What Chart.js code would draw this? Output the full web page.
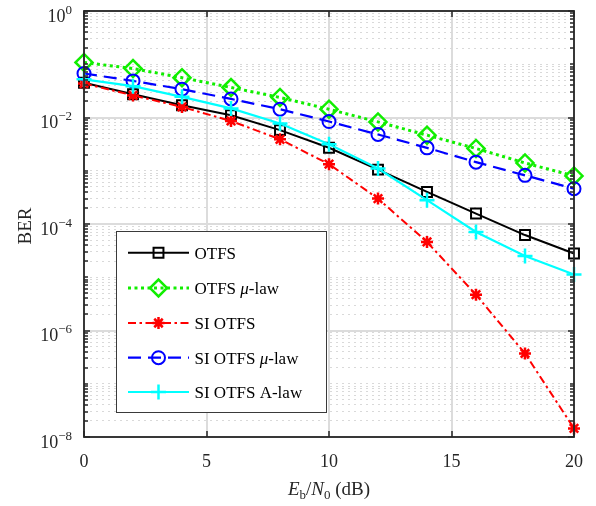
<!DOCTYPE html>
<html>
<head>
<meta charset="utf-8">
<script src="https://cdn.jsdelivr.net/npm/chart.js@4.4.1/dist/chart.umd.min.js"></script>
<style>
  html, body { margin: 0; padding: 0; background: #ffffff; }
  #wrap { width: 596px; height: 506px; }
</style>
</head>
<body>
<div id="wrap"><canvas id="c" width="596" height="506"></canvas></div>
<script>
// ---- data ----
const snr = [0, 2, 4, 6, 8, 10, 12, 14, 16, 18, 20];
const berOTFS     = [0.045, 0.0274, 0.017, 0.011, 0.0058, 0.0027, 0.00105, 0.0004, 0.000157, 0.000062, 0.000028];
const berOTFSMu   = [0.108, 0.083, 0.056, 0.0366, 0.0238, 0.0143, 0.00826, 0.00466, 0.00262, 0.0014, 0.0008];
const berSIOTFS   = [0.0435, 0.026, 0.0158, 0.0086, 0.0039, 0.00133, 0.0003, 0.000046, 0.0000047, 3.7e-7, 1.45e-8];
const berSIOTFSMu = [0.067, 0.0487, 0.034, 0.0223, 0.0143, 0.0084, 0.0048, 0.00269, 0.00145, 0.00082, 0.00046];
const berSIOTFSA  = [0.052, 0.0387, 0.0244, 0.0148, 0.0077, 0.00316, 0.0011, 0.00028, 0.000071, 0.000025, 0.0000113];
const seriesNames = ['OTFS', 'OTFS \u03bc-law', 'SI OTFS', 'SI OTFS \u03bc-law', 'SI OTFS A-law'];
const xTicks = [0, 5, 10, 15, 20];
const yMajorExp = [0, -2, -4, -6, -8];

const FONT = '"Liberation Serif", "Times New Roman", serif';
const AXC = '#262626';

function pts(ys) { return snr.map((x, i) => ({ x: x, y: ys[i] })); }

const styles = [
  { color: '#000000', dash: [], width: 2, point: 'rect', r: 7, pw: 2 },
  { color: '#11ee00', dash: [3, 3.5], width: 3, point: 'rectRot', r: 8.5, pw: 2.5 },
  { color: '#ff0000', dash: [8, 3.5, 2.5, 3.5], width: 2, point: 'star', r: 6, pw: 2.5 },
  { color: '#0000ff', dash: [13, 7], width: 2.2, point: 'circle', r: 6.5, pw: 2 },
  { color: '#00ffff', dash: [], width: 2.2, point: 'cross', r: 7.5, pw: 2.5 }
];
const allSeries = [berOTFS, berOTFSMu, berSIOTFS, berSIOTFSMu, berSIOTFSA];

const datasets = allSeries.map((s, i) => ({
  label: seriesNames[i],
  data: pts(s),
  borderColor: styles[i].color,
  backgroundColor: 'rgba(0,0,0,0)',
  borderWidth: styles[i].width,
  borderDash: styles[i].dash,
  pointStyle: styles[i].point,
  pointRadius: styles[i].r,
  pointBorderWidth: styles[i].pw,
  pointBorderColor: styles[i].color,
  pointBackgroundColor: 'rgba(0,0,0,0)',
  tension: 0,
  fill: false,
  clip: false,
  order: 5 - i
}));

const majorVals = yMajorExp.map(e => Math.pow(10, e));
const minorVals = [];
for (let k = -8; k < 0; k++) {
  for (let m = 1; m <= 9; m++) {
    if (m === 1 && k % 2 === 0) continue;
    minorVals.push(m * Math.pow(10, k));
  }
}

function drawMarker(ctx, st, x, y) {
  const r = st.r;
  ctx.beginPath();
  if (st.point === 'rect') { const s = r * Math.SQRT1_2; ctx.rect(x - s, y - s, 2 * s, 2 * s); }
  else if (st.point === 'rectRot') { ctx.moveTo(x - r, y); ctx.lineTo(x, y - r); ctx.lineTo(x + r, y); ctx.lineTo(x, y + r); ctx.closePath(); }
  else if (st.point === 'circle') { ctx.arc(x, y, r, 0, Math.PI * 2); }
  else if (st.point === 'cross') { ctx.moveTo(x, y - r); ctx.lineTo(x, y + r); ctx.moveTo(x - r, y); ctx.lineTo(x + r, y); }
  else if (st.point === 'star') {
    ctx.moveTo(x, y - r); ctx.lineTo(x, y + r); ctx.moveTo(x - r, y); ctx.lineTo(x + r, y);
    const d = r * Math.SQRT1_2;
    ctx.moveTo(x - d, y - d); ctx.lineTo(x + d, y + d); ctx.moveTo(x - d, y + d); ctx.lineTo(x + d, y - d);
  }
  ctx.stroke();
}

function drawRich(ctx, parts, x, y, align) {
  let total = 0;
  parts.forEach(p => { ctx.font = p.font; p.w = ctx.measureText(p.t).width; total += p.w; });
  let cx = align === 'center' ? x - total / 2 : (align === 'right' ? x - total : x);
  parts.forEach(p => { ctx.font = p.font; ctx.fillText(p.t, cx, y + (p.dy || 0)); cx += p.w; });
}

const decorPlugin = {
  id: 'decor',
  afterDraw(chart) {
    const ctx = chart.ctx;
    const a = chart.chartArea;
    const xs = chart.scales.x, ys = chart.scales.y;
    ctx.save();
    // axis box
    ctx.strokeStyle = AXC;
    ctx.lineWidth = 1.8;
    ctx.setLineDash([]);
    ctx.strokeRect(a.left, a.top, a.right - a.left, a.bottom - a.top);
    // ticks inward
    ctx.lineWidth = 1.5;
    ctx.beginPath();
    xTicks.forEach(v => {
      const px = Math.round(xs.getPixelForValue(v));
      ctx.moveTo(px, a.bottom); ctx.lineTo(px, a.bottom - 6);
      ctx.moveTo(px, a.top); ctx.lineTo(px, a.top + 6);
    });
    majorVals.forEach(v => {
      const py = Math.round(ys.getPixelForValue(v));
      ctx.moveTo(a.left, py); ctx.lineTo(a.left + 6, py);
      ctx.moveTo(a.right, py); ctx.lineTo(a.right - 6, py);
    });
    minorVals.forEach(v => {
      const py = Math.round(ys.getPixelForValue(v));
      ctx.moveTo(a.left, py); ctx.lineTo(a.left + 4, py);
      ctx.moveTo(a.right, py); ctx.lineTo(a.right - 4, py);
    });
    ctx.stroke();

    // x tick labels
    ctx.fillStyle = AXC;
    ctx.textBaseline = 'alphabetic';
    ctx.textAlign = 'center';
    ctx.font = '18px ' + FONT;
    xTicks.forEach(v => {
      ctx.fillText(String(v), xs.getPixelForValue(v), 467);
    });
    // y tick labels 10^e
    ctx.textAlign = 'left';
    yMajorExp.forEach(e => {
      const py = ys.getPixelForValue(Math.pow(10, e));
      const sup = e === 0 ? '0' : '\u2212' + String(-e);
      drawRich(ctx, [
        { t: '10', font: '18px ' + FONT, dy: 10.5 },
        { t: sup, font: '13px ' + FONT, dy: 2.5 }
      ], 72, py, 'right');
    });
    // x axis title
    ctx.fillStyle = AXC;
    drawRich(ctx, [
      { t: 'E', font: 'italic 19px ' + FONT },
      { t: 'b', font: '13px ' + FONT, dy: 4 },
      { t: '/', font: '19px ' + FONT },
      { t: 'N', font: 'italic 19px ' + FONT },
      { t: '0', font: '13px ' + FONT, dy: 4 },
      { t: ' (dB)', font: '19px ' + FONT }
    ], (a.left + a.right) / 2, 495, 'center');
    // y axis title
    ctx.save();
    ctx.translate(31, (a.top + a.bottom) / 2 + 2);
    ctx.rotate(-Math.PI / 2);
    ctx.textAlign = 'center';
    ctx.textBaseline = 'alphabetic';
    ctx.font = '19px ' + FONT;
    ctx.fillText('BER', 0, 0);
    ctx.restore();

    // legend
    const lx = 116, ly = 231, lw = 210, lh = 181;
    ctx.fillStyle = '#ffffff';
    ctx.fillRect(lx, ly, lw, lh);
    ctx.strokeStyle = '#3a3a3a';
    ctx.lineWidth = 1;
    ctx.strokeRect(lx + 0.5, ly + 0.5, lw, lh);
    const rows = [252.7, 288, 323, 357.7, 392];
    styles.forEach((st, i) => {
      const y = rows[i];
      ctx.save();
      ctx.strokeStyle = st.color;
      ctx.lineWidth = st.width;
      ctx.setLineDash(st.dash);
      ctx.beginPath();
      ctx.moveTo(128, y); ctx.lineTo(189, y);
      ctx.stroke();
      ctx.setLineDash([]);
      ctx.lineWidth = st.pw;
      drawMarker(ctx, st, 158.5, y);
      ctx.restore();
      ctx.fillStyle = '#000000';
      ctx.textAlign = 'left';
      ctx.textBaseline = 'alphabetic';
      const name = seriesNames[i];
      const mu = name.indexOf('\u03bc');
      if (mu >= 0) {
        drawRich(ctx, [
          { t: name.slice(0, mu), font: '17px ' + FONT },
          { t: '\u03bc', font: 'italic 17px ' + FONT },
          { t: name.slice(mu + 1), font: '17px ' + FONT }
        ], 194.5, y + 6, 'left');
      } else {
        ctx.font = '17px ' + FONT;
        ctx.fillText(name, 194.5, y + 6);
      }
    });
    ctx.restore();
  }
};

new Chart(document.getElementById('c'), {
  type: 'line',
  data: { datasets: datasets },
  options: {
    responsive: false,
    devicePixelRatio: 1,
    animation: false,
    layout: { padding: { left: 84, right: 22, top: 11, bottom: 69 } },
    plugins: { legend: { display: false }, tooltip: { enabled: false }, title: { display: false } },
    scales: {
      x: {
        type: 'linear', min: 0, max: 20,
        ticks: { display: false, stepSize: 5 },
        afterBuildTicks: ax => { ax.ticks = xTicks.map(v => ({ value: v })); },
        grid: { color: '#dcdcdc', lineWidth: 2, drawTicks: false },
        border: { display: false }
      },
      y: {
        type: 'logarithmic', min: 1e-8, max: 1, position: 'left',
        ticks: { display: false },
        afterBuildTicks: ax => { ax.ticks = majorVals.map(v => ({ value: v })); },
        grid: { color: '#dcdcdc', lineWidth: 2, drawTicks: false },
        border: { display: false }
      },
      y2: {
        type: 'logarithmic', min: 1e-8, max: 1, position: 'right',
        ticks: { display: false },
        afterBuildTicks: ax => { ax.ticks = minorVals.map(v => ({ value: v })); },
        grid: { color: '#d9d9d9', lineWidth: 1, drawTicks: false },
        border: { display: false, dash: [2, 4] }
      }
    }
  },
  plugins: [decorPlugin]
});
</script>
</body>
</html>
